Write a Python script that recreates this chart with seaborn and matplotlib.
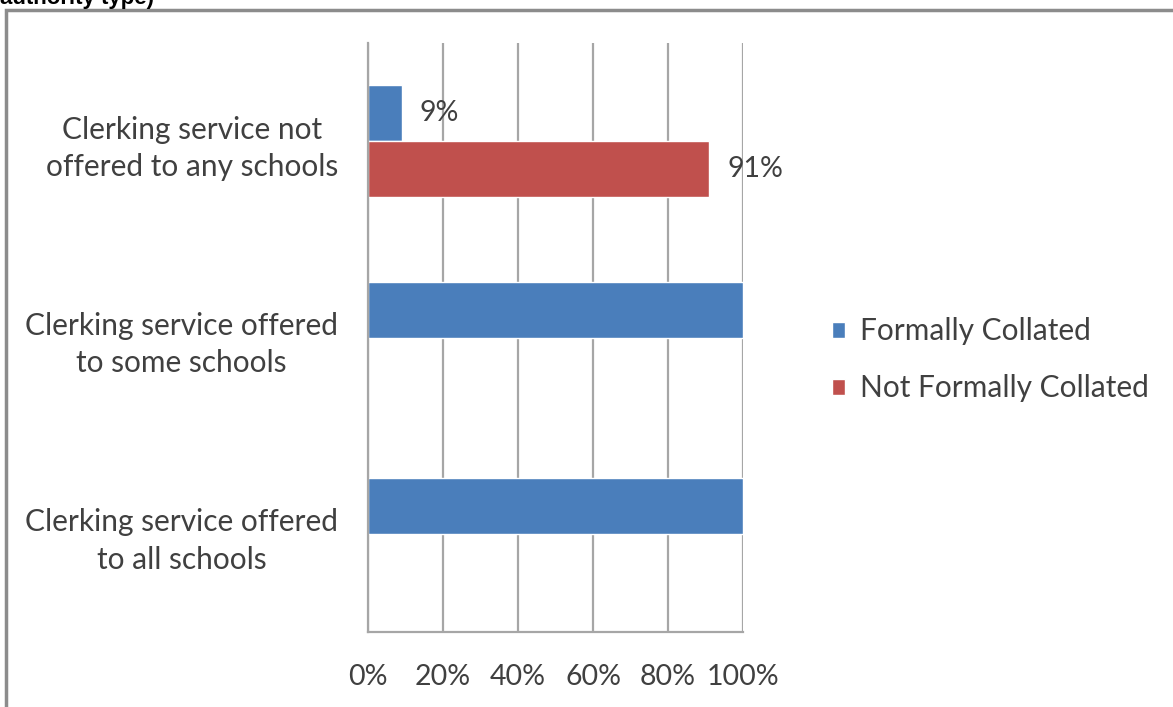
import matplotlib
matplotlib.use("Agg")
import matplotlib.pyplot as plt
from matplotlib.patches import Rectangle
from matplotlib.ticker import FixedLocator, PercentFormatter
import seaborn as sns
import pandas as pd

# Share of responses by clerking-service provision
categories = [
    "Clerking service not\noffered to any schools",
    "Clerking service offered\nto some schools",
    "Clerking service offered\nto all schools",
]
series = ["Formally Collated", "Not Formally Collated"]
formally_collated = [9, 100, 100]
not_formally_collated = [91, 0, 0]
x_ticks = [0, 20, 40, 60, 80, 100]

BLUE = "#4a7ebb"
RED = "#c0504d"
GRID = "#a6a6a6"
TEXT = "#404040"

df = pd.DataFrame({
    "category": categories * 2,
    "series": [series[0]] * 3 + [series[1]] * 3,
    "value": formally_collated + not_formally_collated,
})

sns.set_style("white")
plt.rcParams["font.family"] = ["Lato", "DejaVu Sans"]

fig = plt.figure(figsize=(11.73, 7.07), dpi=100)
ax = fig.add_axes([368 / 1173, 1 - 632 / 707, 375 / 1173, 589 / 707])

sns.barplot(
    data=df, x="value", y="category", hue="series",
    order=categories, hue_order=series,
    palette=[BLUE, RED], orient="h", width=0.57,
    saturation=1, errorbar=None, ax=ax, legend=True,
)

ax.set_xlim(0, 100)
ax.set_ylim(2.5, -0.5)
ax.set_xlabel("")
ax.set_ylabel("")

# Vertical gridlines and axis styling
ax.xaxis.set_major_locator(FixedLocator(x_ticks))
ax.xaxis.set_major_formatter(PercentFormatter(decimals=0))
ax.grid(axis="x", color=GRID, linewidth=1.6)
ax.set_axisbelow(True)
for side in ["top", "right"]:
    ax.spines[side].set_visible(False)
for side in ["left", "bottom"]:
    ax.spines[side].set_color(GRID)
    ax.spines[side].set_linewidth(1.6)

ax.tick_params(axis="x", which="major", direction="out", length=8, width=1.6,
               color=GRID, labelsize=20.5, labelcolor=TEXT, pad=15)
ax.tick_params(axis="y", which="major", length=0, labelsize=21.5,
               labelcolor=TEXT, pad=21.5)
ax.yaxis.set_minor_locator(FixedLocator([-0.5, 0.5, 1.5, 2.5]))
ax.tick_params(axis="y", which="minor", direction="out", length=8, width=1.6,
               color=GRID)
for lbl in ax.get_yticklabels():
    lbl.set_multialignment("center")
    lbl.set_linespacing(1.4)

# Value labels on the first category only
for container, vals in zip(ax.containers, [formally_collated, not_formally_collated]):
    labels = [f"{v:g}%" if i == 0 else "" for i, v in enumerate(vals)]
    ax.bar_label(container, labels=labels, padding=13, fontsize=20.5, color=TEXT)

# Legend to the right of the plot
handles, labels = ax.get_legend_handles_labels()
ax.legend(handles, labels, loc="center left", bbox_to_anchor=(1.237, 0.462),
          borderaxespad=0, borderpad=0, frameon=False, fontsize=21.5,
          labelcolor=TEXT, handlelength=0.45, handleheight=0.45,
          handletextpad=0.5, labelspacing=0.97)

# Outer frame and the clipped heading line above it
fig.patches.append(Rectangle((6 / 1173, -0.1), 1.2, 1.1 - 10 / 707,
                             transform=fig.transFigure, fill=False,
                             edgecolor="#8c8c8c", linewidth=2.5))
fig.text(0.0, 1 - 4 / 707, "authority type)", fontsize=16, fontweight="bold",
         family=["Liberation Sans", "DejaVu Sans"], color="black",
         ha="left", va="baseline")

fig.savefig("out.png", dpi=100)
